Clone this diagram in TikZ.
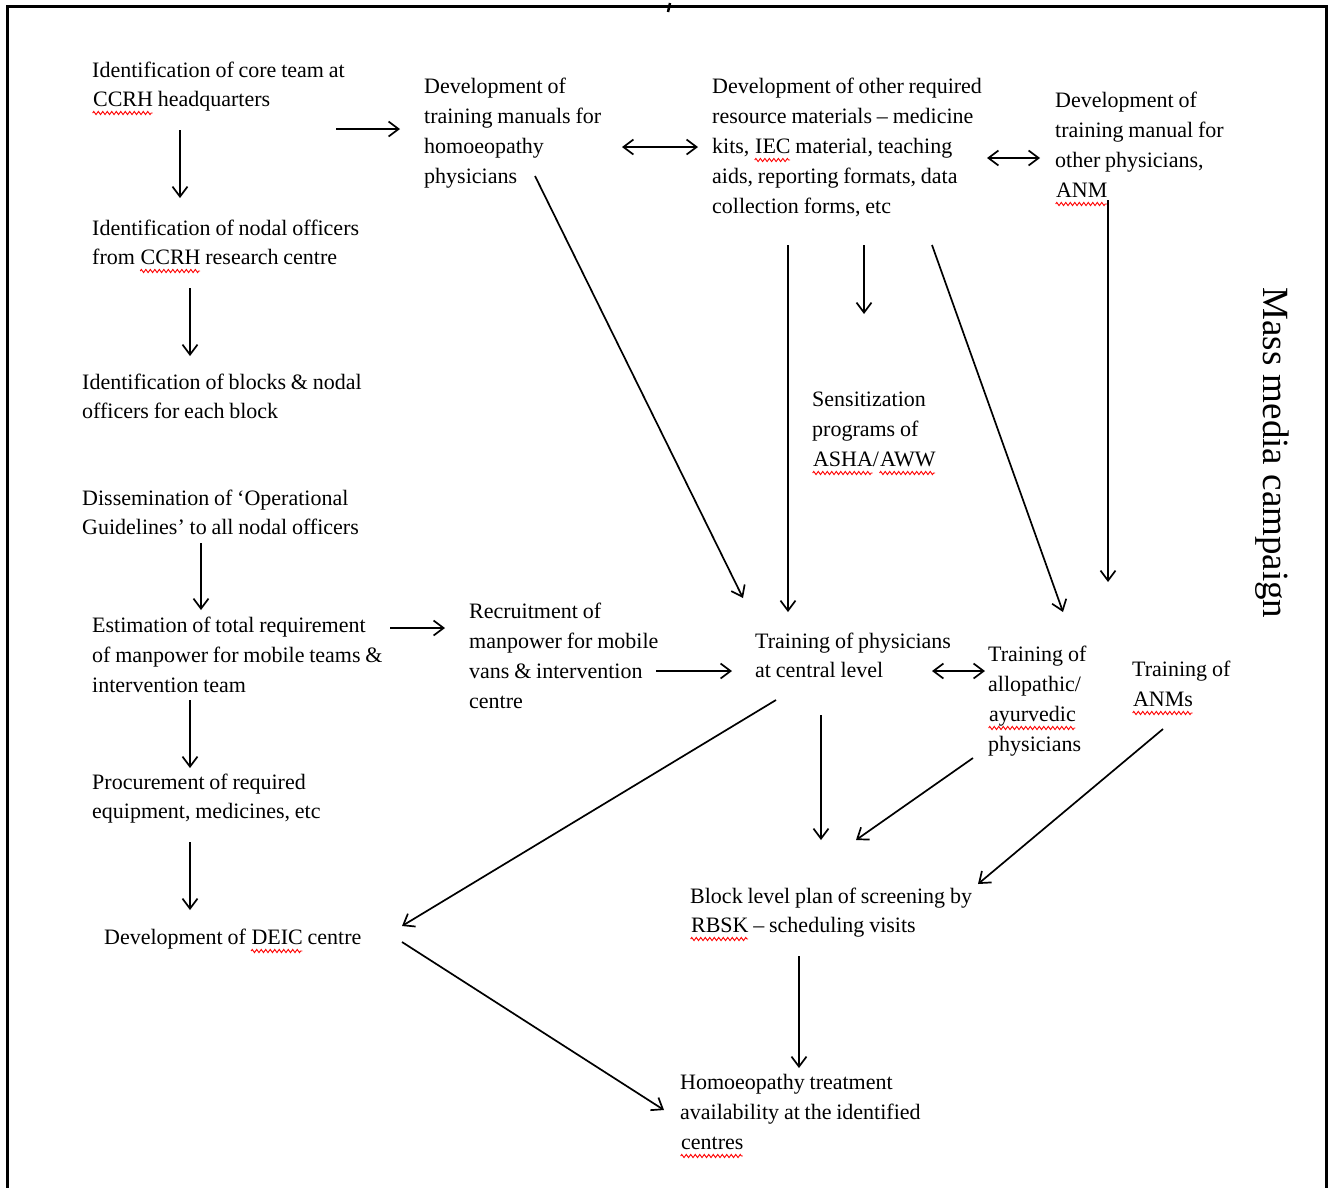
\documentclass[tikz,border=0pt]{standalone}
\usepackage{fontspec}
\setmainfont{Liberation Serif}
\usetikzlibrary{arrows.meta,decorations.pathmorphing}
\newlength{\sqw}
\newcommand{\boxfont}{\fontsize{22}{30}\selectfont\spaceskip=4.8pt plus 1pt minus 0.5pt\relax}
\newcommand{\boxfontt}{\fontsize{22}{29}\selectfont\spaceskip=4.8pt plus 1pt minus 0.5pt\relax}
\tikzset{
    txt/.style={anchor=base west, inner sep=0pt, text width=330pt, align=flush left, font=\boxfont},
    txtt/.style={txt, font=\boxfontt},
    arr/.style={line width=1.7pt, -{Straight Barb[length=10pt,width=15pt]}},
    darr/.style={line width=1.7pt,
        {Straight Barb[length=10pt,width=15pt]}-{Straight Barb[length=10pt,width=15pt]}},
    sqline/.style={red, line width=0.9pt, decorate,
        decoration={zigzag, amplitude=1.6pt, segment length=4.5pt}},
}
\newcommand{\sq}[1]{\settowidth{\sqw}{#1}\tikz[baseline=0pt]\draw[sqline] (0pt,-7pt) -- (\sqw,-7pt);\hspace{-\sqw}#1}

\begin{document}
\begin{tikzpicture}[x=1pt,y=-1pt]
\useasboundingbox (0,0) rectangle (1331,1187);
\draw[line width=3pt] (7,1195) -- (7,6) -- (1326,6) -- (1326,1195);
\draw[line width=2.5pt] (670,3) -- (668,12);

\node[txtt] (core) at (92,77) {Identification of core team at\\\sq{CCRH} headquarters};
\node[txtt] (nodal) at (92,235) {Identification of nodal officers\\from \sq{CCRH} research centre};
\node[txtt] (blocks) at (82,389) {Identification of blocks \& nodal\\officers for each block};
\node[txtt] (dissem) at (82,505) {Dissemination of ‘Operational\\Guidelines’ to all nodal officers};
\node[txt] (estim) at (92,632) {Estimation of total requirement\\of manpower for mobile teams \&\\intervention team};
\node[txtt] (procure) at (92,789) {Procurement of required\\equipment, medicines, etc};
\node[txt] (deic) at (104,944) {Development of \sq{DEIC} centre};
\node[txt] (manuals) at (424,93) {Development of\\training manuals for\\homoeopathy\\physicians};
\node[txt] (resource) at (712,93) {Development of other required\\resource materials – medicine\\kits, \sq{IEC} material, teaching\\aids, reporting formats, data\\collection forms, etc};
\node[txt] (othman) at (1055,107) {Development of\\training manual for\\other physicians,\\\sq{ANM}};
\node[txt] (sensit) at (812,406) {Sensitization\\programs of\\\sq{ASHA}/\sq{AWW}};
\node[txt] (recruit) at (469,618) {Recruitment of\\manpower for mobile\\vans \& intervention\\centre};
\node[txtt] (trainphys) at (755,648) {Training of physicians\\at central level};
\node[txt] (trainallo) at (988,661) {Training of\\allopathic/\\\sq{ayurvedic}\\physicians};
\node[txt] (trainanm) at (1132,676) {Training of\\\sq{ANMs}};
\node[txtt] (blockplan) at (690,903) {Block level plan of screening by\\\sq{RBSK} – scheduling visits};
\node[txt] (homoeo) at (680,1089) {Homoeopathy treatment\\availability at the identified\\\sq{centres}};
\node[rotate=-90, inner sep=0pt, font=\fontsize{37}{40}\selectfont] (mass) at (1272,453) {Mass media campaign};

\draw[arr] ([shift={(244,52)}]core.base west) -- ([shift={(-24,36)}]manuals.base west);
\draw[arr] ([shift={(88,53)}]core.base west) -- ([shift={(88,-37)}]nodal.base west);
\draw[arr] ([shift={(98,53)}]nodal.base west) -- ([shift={(108,-33)}]blocks.base west);
\draw[arr] ([shift={(119,38)}]dissem.base west) -- ([shift={(109,-22)}]estim.base west);
\draw[arr] ([shift={(298,-4)}]estim.base west) -- ([shift={(-24,10)}]recruit.base west);
\draw[arr] ([shift={(98,68)}]estim.base west) -- ([shift={(98,-21)}]procure.base west);
\draw[arr] ([shift={(98,53)}]procure.base west) -- ([shift={(86,-34)}]deic.base west);
\draw[darr] ([shift={(198,54)}]manuals.base west) -- ([shift={(-14,54)}]resource.base west);
\draw[darr] ([shift={(275,65)}]resource.base west) -- ([shift={(-15,51)}]othman.base west);
\draw[arr] ([shift={(111,83)}]manuals.base west) -- ([shift={(-12,-50)}]trainphys.base west);
\draw[arr] ([shift={(76,152)}]resource.base west) -- ([shift={(33,-36)}]trainphys.base west);
\draw[arr] ([shift={(152,152)}]resource.base west) -- ([shift={(52,-92)}]sensit.base west);
\draw[arr] ([shift={(220,152)}]resource.base west) -- ([shift={(75,-49)}]trainallo.base west);
\draw[arr] ([shift={(53,93)}]othman.base west) -- ([shift={(-24,-94)}]trainanm.base west);
\draw[arr] ([shift={(187,53)}]recruit.base west) -- ([shift={(-23,23)}]trainphys.base west);
\draw[darr] ([shift={(177,23)}]trainphys.base west) -- ([shift={(-3,10)}]trainallo.base west);
\draw[arr] ([shift={(21,52)}]trainphys.base west) -- ([shift={(298,-18)}]deic.base west);
\draw[arr] ([shift={(66,67)}]trainphys.base west) -- ([shift={(131,-63)}]blockplan.base west);
\draw[arr] ([shift={(-15,97)}]trainallo.base west) -- ([shift={(166,-63)}]blockplan.base west);
\draw[arr] ([shift={(31,53)}]trainanm.base west) -- ([shift={(288,-19)}]blockplan.base west);
\draw[arr] ([shift={(298,-2)}]deic.base west) -- ([shift={(-16,21)}]homoeo.base west);
\draw[arr] ([shift={(109,53)}]blockplan.base west) -- ([shift={(119,-21)}]homoeo.base west);
\end{tikzpicture}
\end{document}
